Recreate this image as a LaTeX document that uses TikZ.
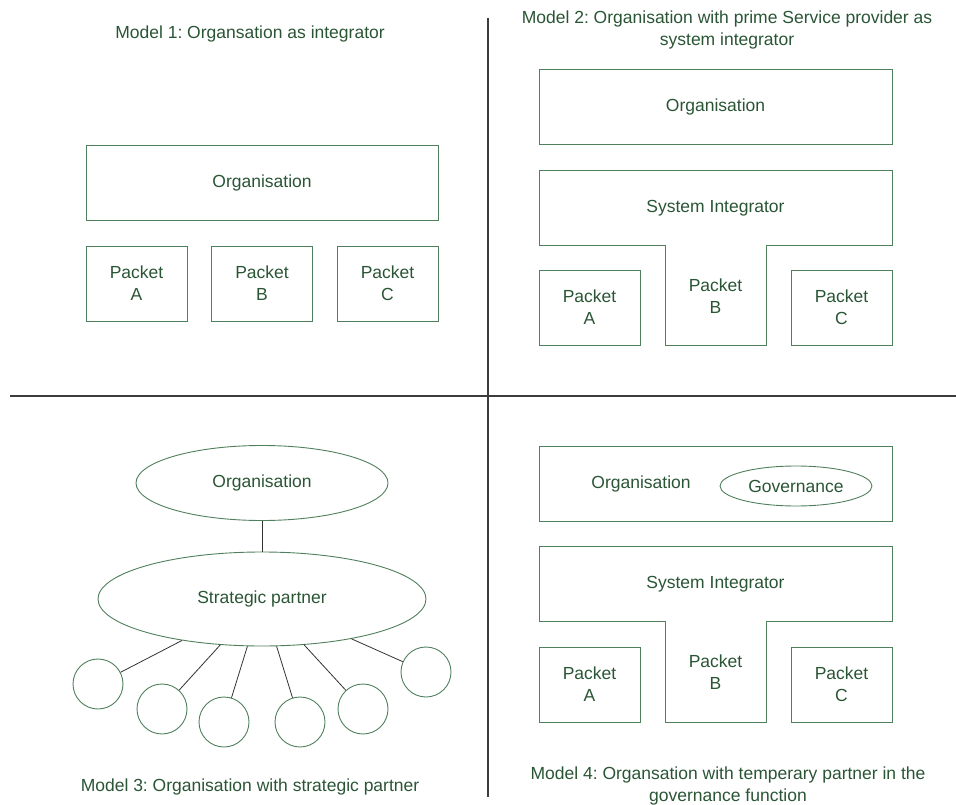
\documentclass[tikz,border=0pt]{standalone}
\usepackage{fontspec}
\setmainfont{Liberation Sans}
\usetikzlibrary{shapes.geometric}
\definecolor{txtgreen}{HTML}{2A5535}
\definecolor{boxgreen}{HTML}{4F7F5C}
\definecolor{divgray}{HTML}{3C3C3C}
\frenchspacing
\begin{document}
\begin{tikzpicture}[x=1pt,y=-1pt,
  every node/.style={font=\fontsize{17.5}{22}\selectfont, text=txtgreen, inner sep=0pt},
  bigbox/.style={draw=boxgreen, line width=0.9pt, rectangle, minimum width=353pt, minimum height=75pt},
  pktbox/.style={draw=boxgreen, line width=0.9pt, rectangle, minimum width=101pt, minimum height=75pt, align=center},
  tshape/.style={draw=boxgreen, line width=0.9pt},
  oval/.style={draw=boxgreen, line width=0.9pt, ellipse},
  member/.style={draw=boxgreen, line width=0.9pt, circle, minimum size=50pt},
  link/.style={draw=black!80, line width=0.8pt},
  divider/.style={draw=divgray, line width=1.2pt},
  caption/.style={align=center}]
\useasboundingbox (0,0) rectangle (956,805);

% quadrant dividers
\coordinate (vtop) at (488,18);
\coordinate (vbot) at (488,797);
\coordinate (hleft) at (10,396);
\coordinate (hright) at (956,396);
\draw[divider] (vtop) -- (vbot);
\draw[divider] (hleft) -- (hright);

% Model 1
\node[caption] (t1) at (250,34) {Model 1: Organsation as integrator};
\node[bigbox, minimum width=352pt] (org1) at (262,182.5) {Organisation};
\node[pktbox] (pa1) at (136.5,283.5) {Packet\\A};
\node[pktbox] (pb1) at (262,283.5) {Packet\\B};
\node[pktbox] (pc1) at (387.5,283.5) {Packet\\C};

% Model 2
\node[caption] (t2) at (727,30) {Model 2: Organisation with prime Service provider as\\system integrator};
\node[bigbox] (org2) at (715.5,106.5) {Organisation};
\draw[tshape] (539,170) -- (892,170) -- (892,245) -- (766,245) -- (766,345)
  -- (665,345) -- (665,245) -- (539,245) -- cycle;
\node (si2) at (715.5,208) {System Integrator};
\node[align=center] (pb2) at (715.5,296) {Packet\\B};
\node[pktbox] (pa2) at (589.5,307.5) {Packet\\A};
\node[pktbox] (pc2) at (841.5,307.5) {Packet\\C};

% Model 3
\node[oval, minimum width=252pt, minimum height=75pt] (org3) at (262,483) {Organisation};
\node[oval, minimum width=328pt, minimum height=94pt] (sp3) at (262,599) {Strategic partner};
\node[member] (c1) at (98,684) {};
\node[member] (c2) at (162,709) {};
\node[member] (c3) at (224,722) {};
\node[member] (c4) at (300,722) {};
\node[member] (c5) at (363,709) {};
\node[member] (c6) at (426,672) {};
\draw[link] (org3) -- (sp3);
\foreach \c in {c1,c2,c3,c4,c5,c6} \draw[link] (sp3) -- (\c);
\node[caption] (t3) at (250,787) {Model 3: Organisation with strategic partner};

% Model 4
\node[bigbox] (org4) at (715.5,483.5) {};
\node (orgl4) at (641,484) {Organisation};
\node[oval, minimum width=152pt, minimum height=40pt] (gov4) at (796,486) {Governance};
\draw[tshape] (539,546) -- (892,546) -- (892,621) -- (766,621) -- (766,722)
  -- (665,722) -- (665,621) -- (539,621) -- cycle;
\node (si4) at (715.5,584) {System Integrator};
\node[align=center] (pb4) at (715.5,672) {Packet\\B};
\node[pktbox] (pa4) at (589.5,684.5) {Packet\\A};
\node[pktbox] (pc4) at (841.5,684.5) {Packet\\C};
\node[caption] (t4) at (728,786) {Model 4: Organsation with temperary partner in the\\governance function};
\end{tikzpicture}
\end{document}
